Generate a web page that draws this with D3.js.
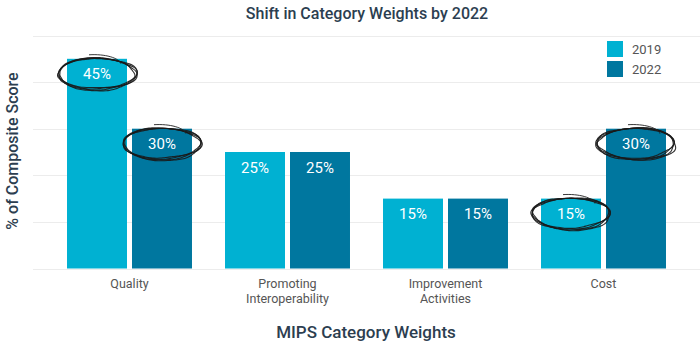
<!DOCTYPE html>
<html><head><meta charset="utf-8">
<script src="https://cdn.jsdelivr.net/npm/d3@7"></script>
<style>html,body{margin:0;padding:0;background:#fff;}svg{display:block;font-family:Roboto,"Noto Sans",sans-serif;}</style>
</head><body><svg id="c" width="700" height="357"></svg>
<script>
const categories = ["Quality", "Promoting\nInteroperability", "Improvement\nActivities", "Cost"];
const seriesNames = ["2019", "2022"];
const values2019 = [45, 25, 15, 15];
const values2022 = [30, 25, 15, 30];
const yTicks = [0, 10, 20, 30, 40, 50];
const highlighted = [[0, "2019"], [0, "2022"], [3, "2019"], [3, "2022"]];
const colors = ["#00b1d2", "#00779f"];

const svg = d3.select("#c");
const x0 = d3.scaleBand().domain(d3.range(categories.length)).range([50.5, 682.5]).paddingInner(0.209).paddingOuter(0.1045);
const x1 = d3.scaleBand().domain(seriesNames).range([0, x0.bandwidth()]).paddingInner(5/65);
const y = d3.scaleLinear().domain([0, 50]).range([268.5, 35.5]);
const color = d3.scaleOrdinal().domain(seriesNames).range(colors);
const data = categories.map((c, i) => ({i, c, vals: [{s: "2019", v: values2019[i]}, {s: "2022", v: values2022[i]}]}));

// grid
svg.append("g").selectAll("line").data(yTicks).join("line")
  .attr("x1", 33).attr("x2", 700)
  .attr("y1", d => Math.round(y(d)) + 0.5).attr("y2", d => Math.round(y(d)) + 0.5)
  .attr("stroke", "#ececec").attr("stroke-width", 1);

// bars
const g = svg.append("g").selectAll("g").data(data).join("g")
  .attr("transform", d => `translate(${x0(d.i)},0)`);
g.selectAll("rect").data(d => d.vals).join("rect")
  .attr("x", d => x1(d.s)).attr("width", x1.bandwidth())
  .attr("y", d => y(d.v)).attr("height", d => y(0) - y(d.v))
  .attr("fill", d => color(d.s));
g.selectAll("text.val").data(d => d.vals).join("text").attr("class", "val")
  .attr("x", d => x1(d.s) + x1.bandwidth() / 2).attr("y", d => y(d.v) + 20.5)
  .attr("text-anchor", "middle").attr("fill", "#fff").attr("font-size", 15)
  .text(d => d.v + "%");

// category labels
const catG = svg.append("g");
data.forEach(d => {
  const t = catG.append("text").attr("x", x0(d.i) + x0.bandwidth() / 2).attr("y", 288)
    .attr("text-anchor", "middle").attr("fill", "#555").attr("font-size", 12.5);
  d.c.split("\n").forEach((line, k) => {
    t.append("tspan").attr("x", x0(d.i) + x0.bandwidth() / 2).attr("dy", k ? 14.5 : 0).text(line);
  });
});

// hand-drawn ellipses
function sketchPath(cx, cy, rx, ry, phase) {
  const pts = [];
  const start = -1.2, end = start + Math.PI * 2 * 1.12;
  for (let t = start; t <= end; t += 0.08) {
    const w = 1 + 0.03 * Math.sin(3 * t + phase) + 0.02 * Math.sin(7 * t + phase * 2);
    pts.push([cx + rx * w * Math.cos(t), cy + ry * w * Math.sin(t)]);
  }
  return d3.line().curve(d3.curveCatmullRom)(pts);
}
const ann = svg.append("g");
highlighted.forEach(([ci, s], k) => {
  const v = s === "2019" ? values2019[ci] : values2022[ci];
  const cx = x0(ci) + x1(s) + x1.bandwidth() / 2;
  const cy = y(v) + 15;
  [0, 1, 2, 3].forEach(j => {
    ann.append("path").attr("d", sketchPath(cx + (j - 1.5) * 0.5, cy + (j - 1.5) * 0.4, 38 + j * 0.5, 15 + j * 0.4, k + j * 0.9))
      .attr("fill", "none").attr("stroke", "#1a1a1a").attr("stroke-width", 1.1).attr("opacity", 0.9);
  });
  // pen flourish at top right
  ann.append("path").attr("d", `M${cx + 24},${cy - 10} C${cx + 22},${cy - 16} ${cx + 8},${cy - 20} ${cx - 8},${cy - 19}`)
    .attr("fill", "none").attr("stroke", "#222").attr("stroke-width", 0.9);
});

// legend
const leg = svg.append("g").attr("transform", "translate(607,41)");
seriesNames.forEach((s, i) => {
  leg.append("rect").attr("x", 0).attr("y", i * 20).attr("width", 16).attr("height", 16).attr("fill", color(s));
  leg.append("text").attr("x", 25).attr("y", i * 20 + 13).attr("fill", "#555").attr("font-size", 13).text(s);
});

// titles
svg.append("text").attr("x", 367).attr("y", 19).attr("text-anchor", "middle")
  .attr("fill", "#2c3e50").attr("font-size", 16).attr("font-weight", 500).text("Shift in Category Weights by 2022");
svg.append("text").attr("x", 366).attr("y", 338).attr("text-anchor", "middle")
  .attr("fill", "#2c3e50").attr("font-size", 17).attr("font-weight", 500).text("MIPS Category Weights");
svg.append("text").attr("transform", "translate(18,151) rotate(-90)").attr("text-anchor", "middle")
  .attr("fill", "#2c3e50").attr("font-size", 16).attr("font-weight", 500).text("% of Composite Score");
</script></body></html>
